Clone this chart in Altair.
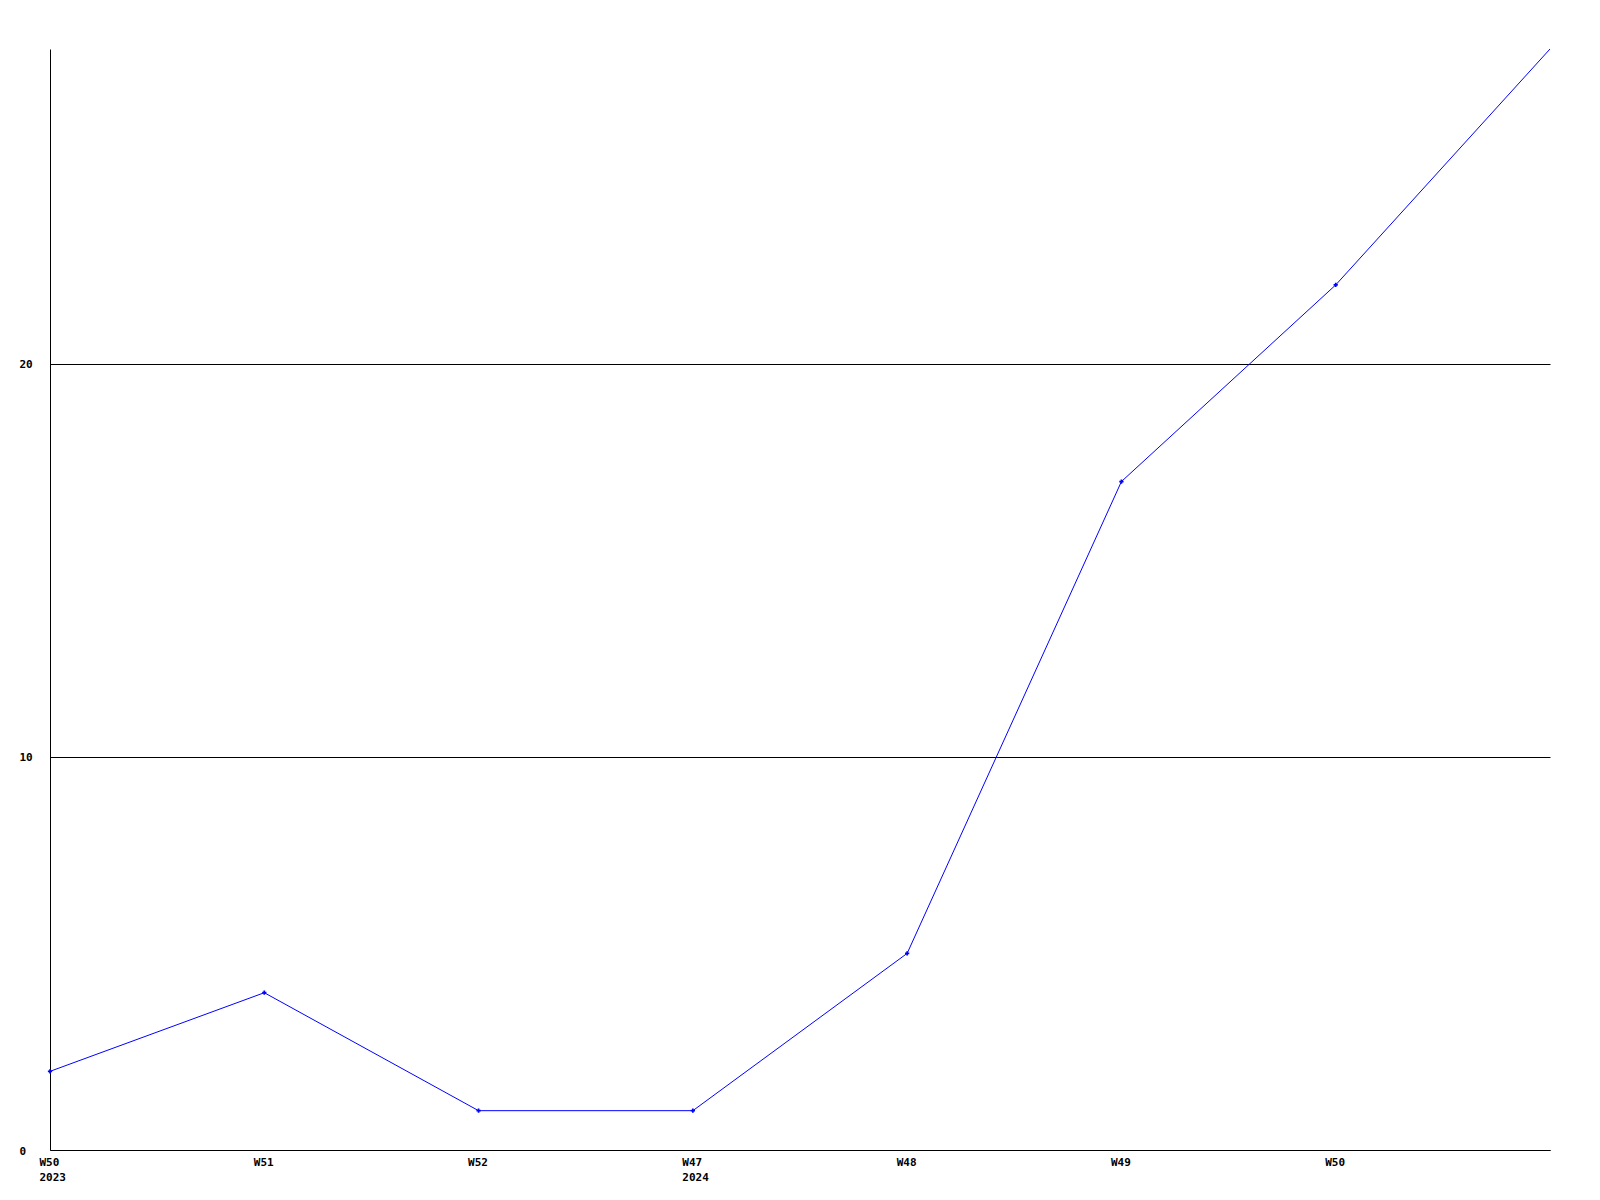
import altair as alt
import pandas as pd

weeks = ["2023-W50", "2023-W51", "2023-W52", "2024-W47", "2024-W48", "2024-W49", "2024-W50", "2024-W51"]
values = [2, 4, 1, 1, 5, 17, 22, 28]
tick_labels = [["W50", "2023"], ["W51"], ["W52"], ["W47", "2024"], ["W48"], ["W49"], ["W50"], [""]]

df = pd.DataFrame({"week": weeks, "value": values})

def js_list(items):
    return "[" + ",".join(js_list(i) if isinstance(i, list) else "'" + str(i) + "'" for i in items) + "]"

label_expr = f"{js_list(tick_labels)}[indexof({js_list(weeks)}, datum.value)]"

FONT = "DejaVu Sans Mono"

x_enc = alt.X("week:N", sort=weeks, scale=alt.Scale(type="point", padding=0),
              axis=alt.Axis(title=None, labelExpr=label_expr, labelAngle=0, labelAlign="left",
                            labelOffset=-11, labelBaseline="top", labelPadding=6, labelLineHeight=15,
                            ticks=False, tickSize=0, grid=False, domainColor="black",
                            labelFont=FONT, labelFontWeight="bold", labelFontSize=11,
                            labelColor="black", labelOverlap=False))
y_enc = alt.Y("value:Q", scale=alt.Scale(domain=[0, 28], nice=False),
              axis=alt.Axis(title=None, values=[0, 10, 20], ticks=False, tickSize=0,
                            labelAlign="left", labelPadding=31, labelBaseline="middle",
                            labelOffset=1,
                            grid=True, gridColor="black", gridOpacity=1, gridWidth=1,
                            domainColor="black", labelFont=FONT, labelFontWeight="bold",
                            labelFontSize=11, labelColor="black"))

base = alt.Chart(df)
line = base.mark_line(color="#0000ff", strokeWidth=1).encode(x=x_enc, y=y_enc)
pts = base.transform_filter(f"datum.week != '{weeks[-1]}'").mark_point(
    shape="cross", size=18, filled=True, color="#0000ff", opacity=1
).encode(x=x_enc, y=y_enc)

chart = alt.layer(line, pts).properties(
    width=1500, height=1101,
    autosize=alt.AutoSizeParams(type="none"),
    padding={"left": 42, "top": 41, "right": 30, "bottom": 40},
).configure_view(stroke=None)

chart.save("out.html", embed_options={"renderer": "svg", "actions": False})
